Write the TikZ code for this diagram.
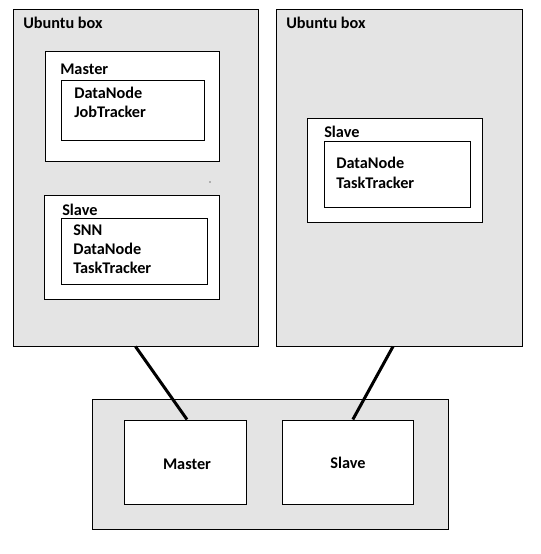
\documentclass[tikz,border=0pt]{standalone}
\usepackage{fontspec}
\setmainfont{Carlito}
\usetikzlibrary{fit}
\definecolor{boxgray}{RGB}{228,228,228}
\begin{document}
\begin{tikzpicture}[x=0.75pt,y=-0.75pt,
  graybox/.style={draw=black, fill=boxgray, line width=0.75pt, inner sep=0pt},
  whitebox/.style={draw=black, fill=white, line width=0.75pt, inner sep=0pt},
  lbl/.style={font=\bfseries\fontsize{12.2}{14}\selectfont, inner sep=0pt, anchor=mid west, yshift=-1.5pt},
  ctext/.style={font=\bfseries\fontsize{12.2}{14}\selectfont, yshift=-1pt},
  link/.style={draw=black, line width=2.25pt}]
\useasboundingbox (0,0) rectangle (540,554);
% Left Ubuntu box
\node[graybox, fit={(13,9) (258,346)}] (ub1) {};
\node[lbl] (ub1t) at (23,23) {Ubuntu box};
\node[whitebox, fit={(45,51) (219,161)}] (m1) {};
\node[lbl] (m1t) at (60,69) {Master};
\node[whitebox, fit={(61,80) (204,140)}] (m1i) {};
\node[lbl] (m1a) at (74,93) {DataNode};
\node[lbl] (m1b) at (74,112) {JobTracker};
\node[whitebox, fit={(44,195) (219,299)}] (s1) {};
\node[lbl] (s1t) at (62,210) {Slave};
\node[whitebox, fit={(61,218) (207,284)}] (s1i) {};
\node[lbl] (s1a) at (73,230) {SNN};
\node[lbl] (s1b) at (73,249) {DataNode};
\node[lbl] (s1c) at (73,268) {TaskTracker};
\fill (210,182) circle (0.7);
% Right Ubuntu box
\node[graybox, fit={(276,9) (522,346)}] (ub2) {};
\node[lbl] (ub2t) at (286,23) {Ubuntu box};
\node[whitebox, fit={(307,118) (482,222)}] (s2) {};
\node[lbl] (s2t) at (324,132) {Slave};
\node[whitebox, fit={(324,141) (470,207)}] (s2i) {};
\node[lbl] (s2a) at (336,163) {DataNode};
\node[lbl] (s2b) at (336,183) {TaskTracker};
% Bottom box
\node[graybox, fit={(92,399) (448,529)}] (bot) {};
\node[whitebox, fit={(124,420) (246,504)}] (bm) {};
\node[ctext] (bmt) at (187,463) {Master};
\node[whitebox, fit={(282,420) (413,504)}] (bs) {};
\node[ctext] (bst) at (348,462) {Slave};
% Connectors
\draw[link] (ub1.south) -- ([xshift=1.5pt]bm.north);
\draw[link] ([xshift=-4.5pt]ub2.south) -- ([xshift=4pt]bs.north);
\end{tikzpicture}
\end{document}
